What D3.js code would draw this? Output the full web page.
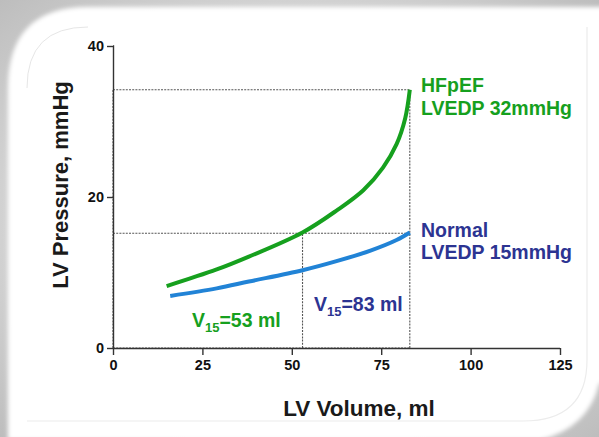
<!DOCTYPE html>
<html>
<head>
<meta charset="utf-8">
<script src="https://cdn.jsdelivr.net/npm/d3@7/dist/d3.min.js"></script>
<style>
  html, body { margin: 0; padding: 0; background: #fff; }
  svg { display: block; }
  text { font-family: "Liberation Sans", Arial, Helvetica, sans-serif; font-weight: bold; }
</style>
</head>
<body>
<svg id="chart" width="599" height="437"></svg>
<script>
// Pressure–volume relationship data (LV volume in ml, LV pressure in mmHg)
const hfpefVolume   = [15, 29, 38, 53, 62.5, 70, 75.5, 79.3, 81.7, 83];
const hfpefPressure = [8.2, 10.4, 12.1, 15.3, 18.2, 20.9, 23.9, 27.0, 30.4, 34.2];
const normalVolume   = [16, 29, 38, 53, 62.5, 72, 79.3, 83];
const normalPressure = [6.9, 7.9, 8.8, 10.3, 11.5, 12.9, 14.3, 15.3];

const xTicks = [0, 25, 50, 75, 100, 125];
const yTicks = [0, 20, 40];

// Reference markers: end-diastolic pressures and volumes at 15 mmHg
const hfpefEDP = 34.2, normalEDP = 15.2;
const v15Hfpef = 53, v15Normal = 83, endVolume = 83;

const green = "#16a01e";
const blue = "#2183d6";
const navy = "#2c3492";

const svg = d3.select("#chart");
const W = 599, H = 437;

// Card background with soft edges
const defs = svg.append("defs");
defs.append("filter").attr("id", "soft")
  .attr("x", "-10%").attr("y", "-10%").attr("width", "120%").attr("height", "120%")
  .append("feGaussianBlur").attr("stdDeviation", 2.2);
const bgGrad = defs.append("radialGradient").attr("id", "bgGrad")
  .attr("cx", "0.5").attr("cy", "0.5").attr("r", "0.75");
bgGrad.append("stop").attr("offset", "0.6").attr("stop-color", "#d6d6d6");
bgGrad.append("stop").attr("offset", "1").attr("stop-color", "#b9b9b9");

svg.append("rect").attr("width", W).attr("height", H).attr("fill", "url(#bgGrad)");
svg.append("path")
  .attr("d", "M8,88 Q8,7 88,7 L640,7 L640,360 L599,384 Q588,428 540,440 L8,440 Z")
  .attr("fill", "#fff")
  .attr("filter", "url(#soft)");
// faint inner frame
svg.append("path")
  .attr("d", "M27,88 Q27,27 88,27")
  .attr("fill", "none").attr("stroke", "#e6e6e6").attr("stroke-width", 1);
svg.append("path")
  .attr("d", "M27,421 L523,421 Q587,421 587,360 L587,27")
  .attr("fill", "none").attr("stroke", "#ececec").attr("stroke-width", 1.2);

// Scales
const x = d3.scaleLinear().domain([0, 125]).range([113, 560]);
const y = d3.scaleLinear().domain([0, 40]).range([348, 46]);

const g = svg.append("g");

// Dashed guide lines
const guides = [
  {x1: 0, y1: hfpefEDP, x2: endVolume, y2: hfpefEDP},
  {x1: endVolume, y1: 0, x2: endVolume, y2: hfpefEDP},
  {x1: 0, y1: normalEDP, x2: endVolume, y2: normalEDP},
  {x1: v15Hfpef, y1: 0, x2: v15Hfpef, y2: normalEDP},
  {x1: 0, y1: 0, x2: endVolume, y2: 0},
  {x1: 0, y1: 0, x2: 0, y2: hfpefEDP}
];
g.selectAll("line.guide").data(guides).join("line")
  .attr("class", "guide")
  .attr("x1", d => x(d.x1)).attr("y1", d => y(d.y1))
  .attr("x2", d => x(d.x2)).attr("y2", d => y(d.y2))
  .attr("stroke", "#555").attr("stroke-width", 1.1)
  .attr("stroke-dasharray", "2,1.2");

// Axes
const yAxis = d3.axisLeft(y).tickValues(yTicks).tickSize(6).tickPadding(3);
const xAxis = d3.axisBottom(x).tickValues(xTicks).tickSize(7).tickPadding(5);

const ya = g.append("g").attr("transform", `translate(${x(0)},0)`).call(yAxis);
const xa = g.append("g").attr("transform", `translate(0,${y(0)})`).call(xAxis);
[ya, xa].forEach(a => {
  a.select(".domain").attr("stroke", "#333").attr("stroke-width", 1.4);
  a.selectAll(".tick line").attr("stroke", "#333").attr("stroke-width", 1.4);
  a.selectAll(".tick text").attr("fill", "#111").style("font-size", "14.5px")
    .style("font-family", "'Liberation Sans', Arial, sans-serif").style("font-weight", "bold");
});
ya.select(".domain").attr("d", `M0,${y(40)}H0.5V${y(0)}`);
ya.selectAll(".tick line").attr("x1", 0.5);
xa.select(".domain").attr("d", `M${x(0)},0.5H${x(125)}`);

// Curves
const line = d3.line().x(d => x(d[0])).y(d => y(d[1])).curve(d3.curveCatmullRom.alpha(0.5));
g.append("path")
  .datum(normalVolume.map((v, i) => [v, normalPressure[i]]))
  .attr("d", line).attr("fill", "none")
  .attr("stroke", blue).attr("stroke-width", 4).attr("stroke-linecap", "butt");
g.append("path")
  .datum(hfpefVolume.map((v, i) => [v, hfpefPressure[i]]))
  .attr("d", line).attr("fill", "none")
  .attr("stroke", green).attr("stroke-width", 4).attr("stroke-linecap", "butt");

// Axis titles
svg.append("text")
  .attr("x", 359).attr("y", 416)
  .attr("text-anchor", "middle").attr("fill", "#1a1a1a")
  .style("font-size", "22.5px").text("LV Volume, ml");
svg.append("text")
  .attr("transform", "translate(68,185) rotate(-90)")
  .attr("text-anchor", "middle").attr("fill", "#1a1a1a")
  .style("font-size", "22px").text("LV Pressure, mmHg");

// Series annotations
const ann = svg.append("g").style("font-size", "19.5px");
ann.append("text").attr("x", 421).attr("y", 92).attr("fill", green).text("HFpEF");
ann.append("text").attr("x", 421).attr("y", 115).attr("fill", green).text("LVEDP 32mmHg");
ann.append("text").attr("x", 421).attr("y", 237).attr("fill", navy).text("Normal");
ann.append("text").attr("x", 421).attr("y", 259).attr("fill", navy).text("LVEDP 15mmHg");

// V15 labels with subscript
function v15Label(px, py, color, vol) {
  const t = svg.append("text").attr("x", px).attr("y", py).attr("fill", color)
    .style("font-size", "19.5px");
  t.append("tspan").text("V");
  t.append("tspan").attr("dy", 5).style("font-size", "13px").text("15");
  t.append("tspan").attr("dy", -5).text("=" + vol + " ml");
}
v15Label(192, 327, green, v15Hfpef);
v15Label(314, 311, navy, v15Normal);
</script>
</body>
</html>
